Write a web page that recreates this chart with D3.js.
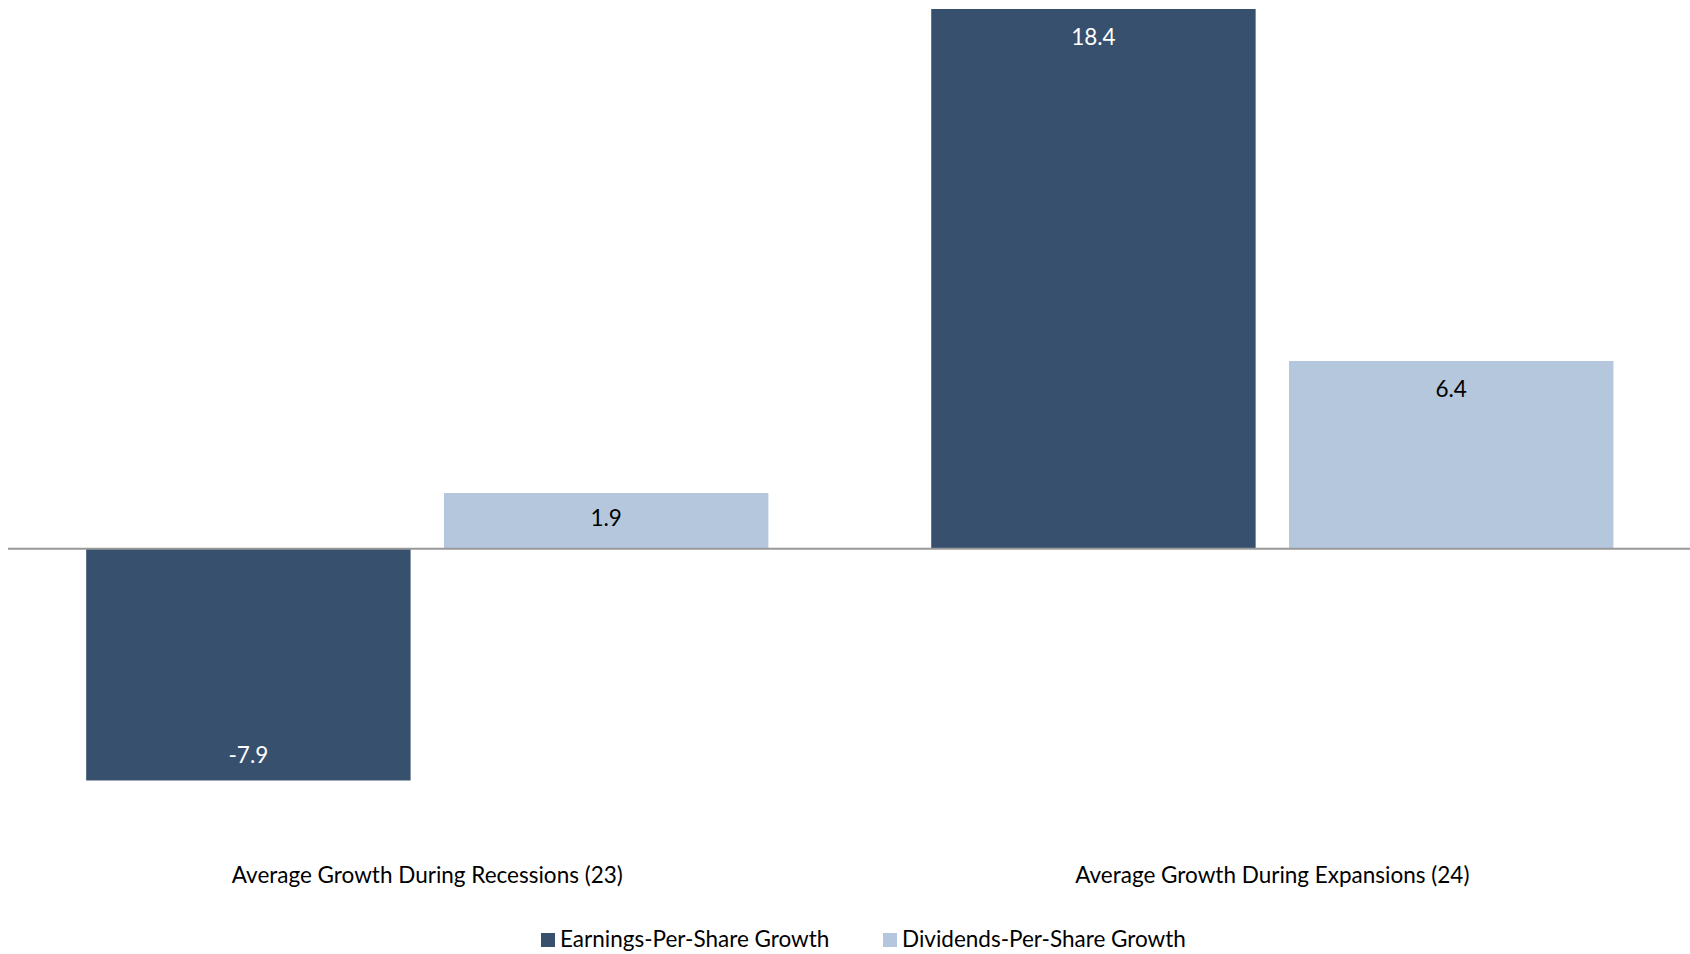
<!DOCTYPE html>
<html>
<head>
<meta charset="utf-8">
<script src="https://cdnjs.cloudflare.com/ajax/libs/d3/7.8.5/d3.min.js"></script>
<style>
body { margin: 0; background: #fff; }
text { font-family: Lato, "Noto Sans", sans-serif; }
</style>
</head>
<body>
<div id="chart"></div>
<script>
var categories = ["Average Growth During Recessions (23)", "Average Growth During Expansions (24)"];
var seriesNames = ["Earnings-Per-Share Growth", "Dividends-Per-Share Growth"];
var epsGrowth = [-7.9, 18.4];
var dpsGrowth = [1.9, 6.4];
var colors = ["#37506e", "#b5c7dc"];

var w = 1690;
var h = 954;
var svg = d3.select("#chart").append("svg").attr("width", w).attr("height", h);

// flatten to one row per bar
var rows = [];
categories.forEach(function(c, i) {
    rows.push({ cat: c, series: seriesNames[0], value: epsGrowth[i] });
    rows.push({ cat: c, series: seriesNames[1], value: dpsGrowth[i] });
});

var xScale = d3.scaleBand().domain(categories).range([4.8, 1694.8]).paddingInner(0.1927).paddingOuter(0.0963);
var xInner = d3.scaleBand().domain(seriesNames).range([0, xScale.bandwidth()]).paddingInner(0.0933);
var yScale = d3.scaleLinear().domain([-8, 18.4]).range([783.4, 9]);

svg.selectAll(".bar").data(rows).enter().append("rect")
    .attr("class", "bar")
    .attr("x", function(d) { return xScale(d.cat) + xInner(d.series); })
    .attr("width", xInner.bandwidth())
    .attr("y", function(d) { return yScale(Math.max(0, d.value)); })
    .attr("height", function(d) { return Math.abs(yScale(d.value) - yScale(0)); })
    .style("fill", function(d) { return colors[seriesNames.indexOf(d.series)]; });

// zero line
svg.append("line")
    .attr("x1", 8).attr("x2", w)
    .attr("y1", yScale(0)).attr("y2", yScale(0))
    .style("stroke", "#999").style("stroke-width", 2);

// value labels, inside the bar end
svg.selectAll(".valueLabel").data(rows).enter().append("text")
    .attr("class", "valueLabel")
    .attr("x", function(d) { return xScale(d.cat) + xInner(d.series) + xInner.bandwidth() / 2; })
    .attr("y", function(d) {
        var barH = Math.abs(yScale(d.value) - yScale(0));
        return d.value >= 0 ? yScale(d.value) + Math.min(36, barH / 2 + 5) : yScale(d.value) - 17;
    })
    .attr("text-anchor", "middle")
    .style("font-size", "22.5px")
    .style("fill", function(d) { return d.series == seriesNames[0] ? "#fff" : "#000"; })
    .text(function(d) { return d.value.toFixed(1); });

// category labels
var xAxis = d3.axisBottom(xScale).tickSize(0).tickPadding(0);
var gx = svg.append("g").attr("transform", "translate(0,883)").call(xAxis);
gx.select(".domain").remove();
gx.selectAll("text").attr("y", 0).attr("dy", 0)
    .style("font-size", "22.5px").style("fill", "#000")
    .style("font-family", "Lato, 'Noto Sans', sans-serif");

// legend
var legendX = [541, 883];
var legend = svg.selectAll(".legend").data(seriesNames).enter().append("g")
    .attr("class", "legend")
    .attr("transform", function(d, i) { return "translate(" + legendX[i] + ",933)"; });
legend.append("rect").attr("width", 14).attr("height", 14)
    .style("fill", function(d, i) { return colors[i]; });
legend.append("text").attr("x", 19).attr("y", 14)
    .style("font-size", "22.5px").style("fill", "#000")
    .text(function(d) { return d; });
</script>
</body>
</html>
